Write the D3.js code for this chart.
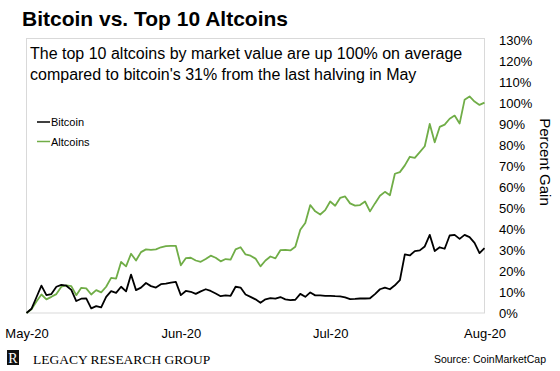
<!DOCTYPE html>
<html lang="en">
<head>
    <meta charset="UTF-8">
    <title>Bitcoin vs. Top 10 Altcoins</title>
    <script src="https://cdn.jsdelivr.net/npm/d3@7/dist/d3.min.js"></script>
    <style>
        body { margin: 0; background: #fff; }
        text { font-family: "Liberation Sans", Arial, sans-serif; }
    </style>
</head>
<body>
    <div id="chart"></div>
    <script>
    // daily % gain since the halving (May 11, 2020)
    const startDate = new Date(2020, 4, 11);
    const bitcoin = [0, 2, 7.5, 13, 8.5, 9, 12.5, 13.4, 13, 11,
        5.7, 6.8, 7, 2.2, 3.3, 2.7, 7.7, 10.4, 9.6, 12.5,
        10.3, 18.3, 10.9, 12.1, 14.3, 12.8, 12.1, 13.7, 14, 14.5,
        14.8, 8.5, 10.5, 10.1, 9.1, 10.3, 11.3, 10.5, 9.3, 8.0,
        8.4, 8.2, 12.5, 12.1, 8.8, 7.7, 6.5, 4.9, 6.5, 7.1,
        6.8, 7.6, 6.5, 6.1, 6.3, 9.1, 7.7, 9.8, 8.4, 8.4,
        8.2, 8.2, 8.0, 7.9, 7.4, 6.6, 6.7, 6.9, 6.9, 7.0,
        9.0, 11.3, 12.1, 11.3, 13.2, 15.6, 27.9, 27.4, 29.5, 29.8,
        31.7, 37.2, 29.5, 31.3, 30.6, 36.9, 37.2, 35.3, 37.2, 36.1,
        33.4, 28.5, 30.9];
    const altcoins = [0, 1.8, 5.5, 8.8, 6.5, 7.7, 9, 12.5, 13.2, 12.8,
        8.5, 12, 11.7, 8.8, 10.9, 9.8, 12.5, 16.7, 16.4, 24.3,
        22.2, 28.2, 25, 29, 30.3, 30.1, 30.3, 31.3, 31.8, 32,
        32, 22.7, 26.1, 26.3, 25, 24.4, 25.7, 27.3, 26.3, 24.6,
        25.7, 25.4, 30.3, 31.3, 27.9, 27.3, 25.9, 22.2, 25, 26.9,
        26, 29.9, 30.1, 29.8, 31.5, 39.6, 42.9, 51.4, 48.4, 46.9,
        49, 53.1, 51.1, 54.8, 55.5, 52.2, 51.1, 51.4, 53.1, 48.4,
        52.2, 55.8, 57.7, 56.1, 66.3, 67.1, 70.3, 74.4, 73.9, 76.6,
        79.4, 90, 81.3, 88.6, 89.7, 92.5, 94, 90.2, 101.5, 103.1,
        100.7, 99.1, 100.2];
    const xTickDates = [new Date(2020, 4, 11), new Date(2020, 5, 11), new Date(2020, 6, 11), new Date(2020, 7, 11)];
    const xTickLabels = ["May-20", "Jun-20", "Jul-20", "Aug-20"];
    const yTicks = [0, 10, 20, 30, 40, 50, 60, 70, 80, 90, 100, 110, 120, 130];

    const dates = bitcoin.map((v, i) => d3.timeDay.offset(startDate, i));

    const width = 560, height = 371;
    const plot = { left: 26.5, right: 484.5, top: 40, bottom: 313 };

    const svg = d3.select("#chart").append("svg")
        .attr("width", width)
        .attr("height", height);

    const xScale = d3.scaleTime()
        .domain([xTickDates[0], xTickDates[3]])
        .range([plot.left, plot.right]);
    const yScale = d3.scaleLinear()
        .domain([0, 130])
        .range([plot.bottom, plot.top]);

    // plot area border
    svg.append("rect")
        .attr("x", plot.left)
        .attr("y", 38.5)
        .attr("width", plot.right - plot.left)
        .attr("height", plot.bottom - 38.5)
        .attr("fill", "none")
        .attr("stroke", "#d9d9d9")
        .attr("stroke-width", 1);

    // axes (labels only)
    const xAxis = d3.axisBottom(xScale)
        .tickValues(xTickDates)
        .tickFormat((d, i) => xTickLabels[i])
        .tickSize(0)
        .tickPadding(16);
    const gx = svg.append("g")
        .attr("transform", `translate(0, ${plot.bottom})`)
        .call(xAxis);

    const yAxis = d3.axisRight(yScale)
        .tickValues(yTicks)
        .tickFormat(d => d + "%")
        .tickSize(0)
        .tickPadding(14.5);
    const gy = svg.append("g")
        .attr("transform", `translate(${plot.right}, 0)`)
        .call(yAxis);

    [gx, gy].forEach(g => {
        g.select(".domain").remove();
        g.selectAll("text")
            .attr("fill", "#000")
            .style("font-family", "'Liberation Sans', Arial, sans-serif")
            .style("font-size", "13px");
    });

    // lines
    const line = series => d3.line()
        .x((d, i) => xScale(dates[i]))
        .y(d => yScale(d))(series);

    svg.append("path")
        .attr("d", line(altcoins))
        .attr("fill", "none")
        .attr("stroke", "#70ad47")
        .attr("stroke-width", 1.8)
        .attr("stroke-linejoin", "round");
    svg.append("path")
        .attr("d", line(bitcoin))
        .attr("fill", "none")
        .attr("stroke", "#000")
        .attr("stroke-width", 1.8)
        .attr("stroke-linejoin", "round");

    // legend
    const legend = [{ name: "Bitcoin", color: "#000" }, { name: "Altcoins", color: "#70ad47" }];
    legend.forEach((l, i) => {
        const y = 122 + i * 19.5;
        svg.append("line")
            .attr("x1", 37).attr("x2", 50)
            .attr("y1", y).attr("y2", y)
            .attr("stroke", l.color)
            .attr("stroke-width", 1.5);
        svg.append("text")
            .attr("x", 51)
            .attr("y", y + 4)
            .style("font-size", "11px")
            .text(l.name);
    });

    // titles
    svg.append("text")
        .attr("x", 22)
        .attr("y", 26)
        .style("font-size", "21px")
        .style("font-weight", "bold")
        .text("Bitcoin vs. Top 10 Altcoins");

    svg.append("text")
        .attr("x", 30)
        .attr("y", 59)
        .style("font-size", "16px")
        .text("The top 10 altcoins by market value are up 100% on average");
    svg.append("text")
        .attr("x", 30)
        .attr("y", 80)
        .style("font-size", "16px")
        .text("compared to bitcoin's 31% from the last halving in May");

    svg.append("text")
        .attr("transform", "translate(540, 162) rotate(90)")
        .attr("text-anchor", "middle")
        .style("font-size", "15px")
        .text("Percent Gain");

    // footer
    svg.append("rect")
        .attr("x", 7).attr("y", 350)
        .attr("width", 12).attr("height", 15)
        .attr("fill", "#111");
    svg.append("text")
        .attr("x", 13).attr("y", 362.5)
        .attr("text-anchor", "middle")
        .attr("fill", "#fff")
        .style("font-family", "'Liberation Serif', 'Times New Roman', serif")
        .style("font-size", "14px")
        .text("R");
    svg.append("text")
        .attr("x", 33).attr("y", 364)
        .style("font-family", "'Liberation Serif', 'Times New Roman', serif")
        .style("font-size", "13.5px")
        .text("LEGACY RESEARCH GROUP");
    svg.append("text")
        .attr("x", 546).attr("y", 363)
        .attr("text-anchor", "end")
        .style("font-size", "10.5px")
        .text("Source: CoinMarketCap");
    </script>
</body>
</html>
